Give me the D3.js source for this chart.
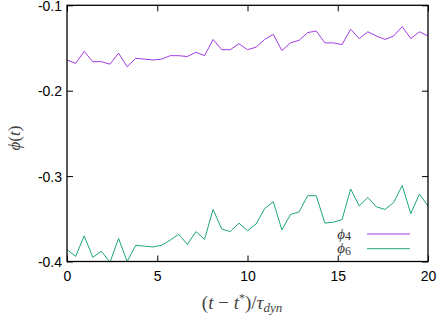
<!DOCTYPE html>
<html>
<head>
<meta charset="utf-8">
<script src="https://cdn.jsdelivr.net/npm/d3@7"></script>
<style>
  html, body { margin: 0; padding: 0; background: #fff; }
  svg { display: block; }
</style>
</head>
<body>
<svg id="chart" width="437" height="315"></svg>
<script>
const xTicks = [0, 5, 10, 15, 20];
const yTicks = [-0.4, -0.3, -0.2, -0.1];
const nPoints = 43;
const xMax = 20;
const phi4 = [-0.164, -0.168, -0.154, -0.166, -0.166, -0.169, -0.156, -0.172, -0.162, -0.163,
  -0.164, -0.163, -0.159, -0.159, -0.160, -0.155, -0.159, -0.140, -0.152, -0.152,
  -0.145, -0.152, -0.149, -0.140, -0.134, -0.153, -0.144, -0.141, -0.132, -0.130,
  -0.144, -0.144, -0.146, -0.128, -0.139, -0.131, -0.136, -0.140, -0.136, -0.125,
  -0.139, -0.131, -0.136];
const phi6 = [-0.386, -0.394, -0.370, -0.395, -0.388, -0.401, -0.373, -0.400, -0.381, -0.382,
  -0.383, -0.381, -0.375, -0.368, -0.380, -0.365, -0.374, -0.339, -0.362, -0.365,
  -0.355, -0.364, -0.356, -0.338, -0.330, -0.363, -0.345, -0.342, -0.323, -0.323,
  -0.355, -0.354, -0.351, -0.315, -0.335, -0.325, -0.336, -0.339, -0.331, -0.311,
  -0.344, -0.321, -0.335];
const times = d3.range(nPoints).map(i => i * xMax / (nPoints - 1));
const seriesNames = ["4", "6"];
const seriesColors = ["#a43be2", "#1ea57e"];

const svg = d3.select("#chart");
const L = 67, R = 428, T = 5.3, B = 261.5;
const x = d3.scaleLinear().domain([0, 20]).range([L, R]);
const y = d3.scaleLinear().domain([-0.4, -0.1]).range([B, T]);

const defs = svg.append("defs");
defs.append("clipPath").attr("id", "clip").append("rect")
  .attr("x", L).attr("y", T).attr("width", R - L).attr("height", B - T + 1);

const tickLen = 6;
const tickFont = "'Liberation Sans', Arial, sans-serif";
const yFmt = d => d3.format(".1f")(d).replace("−", "-");

const axB = d3.axisBottom(x).tickValues(xTicks).tickSize(-tickLen).tickPadding(10).tickFormat(d3.format("d"));
const axT = d3.axisTop(x).tickValues(xTicks).tickSize(-tickLen).tickFormat("");
const axL = d3.axisLeft(y).tickValues(yTicks).tickSize(-tickLen).tickPadding(5).tickFormat(yFmt);
const axR = d3.axisRight(y).tickValues(yTicks).tickSize(-tickLen).tickFormat("");

function style(g) {
  g.select(".domain").remove();
  g.selectAll(".tick line").attr("stroke", "#000").attr("stroke-width", 1);
  g.selectAll(".tick text").attr("fill", "#000").style("font-family", tickFont).style("font-size", "14px");
}
svg.append("g").attr("transform", `translate(0,${B})`).call(axB).call(style);
svg.append("g").attr("transform", `translate(0,${T})`).call(axT).call(style);
const gl = svg.append("g").attr("transform", `translate(${L},0)`).call(axL).call(style);
gl.selectAll(".tick text").attr("dy", "0.36em");
svg.append("g").attr("transform", `translate(${R},0)`).call(axR).call(style);

const line = d3.line().x((d, i) => x(times[i])).y(d => y(d));
[phi4, phi6].forEach((s, k) => {
  svg.append("path").datum(s)
    .attr("clip-path", "url(#clip)")
    .attr("fill", "none")
    .attr("stroke", seriesColors[k])
    .attr("stroke-width", 1)
    .attr("d", line);
});

svg.append("rect").attr("x", L).attr("y", T).attr("width", R - L).attr("height", B - T)
  .attr("fill", "none").attr("stroke", "#000").attr("stroke-width", 1.3);

const serif = "'Liberation Serif', 'Times New Roman', serif";
seriesNames.forEach((n, k) => {
  const yy = 234 + k * 14.7;
  const t = svg.append("text").attr("x", 351).attr("y", yy + 4.5)
    .attr("text-anchor", "end").attr("fill", "#333")
    .style("font-family", serif).style("font-size", "15px");
  t.append("tspan").style("font-style", "italic").text("ϕ");
  t.append("tspan").style("font-size", "12px").attr("dy", 1.5).text(n);
  svg.append("line").attr("x1", 367).attr("x2", 410).attr("y1", yy).attr("y2", yy)
    .attr("stroke", seriesColors[k]).attr("stroke-width", 1);
});

const xl = svg.append("text").attr("x", 242).attr("y", 309).attr("text-anchor", "middle")
  .attr("fill", "#444").style("font-family", serif).style("font-size", "19px");
xl.append("tspan").text("(");
xl.append("tspan").style("font-style", "italic").text("t");
xl.append("tspan").text(" − ");
xl.append("tspan").style("font-style", "italic").text("t");
xl.append("tspan").attr("dy", -7).style("font-size", "12px").text("*");
xl.append("tspan").attr("dy", 7).text(")/");
xl.append("tspan").style("font-style", "italic").text("τ");
xl.append("tspan").attr("dy", 3).style("font-size", "13px").style("font-style", "italic").text("dyn");

const yl = svg.append("text").attr("transform", `translate(20,138) rotate(-90)`)
  .attr("text-anchor", "middle").attr("fill", "#444")
  .style("font-family", serif).style("font-size", "17px");
yl.append("tspan").style("font-style", "italic").text("ϕ");
yl.append("tspan").text("(");
yl.append("tspan").style("font-style", "italic").text("t");
yl.append("tspan").text(")");
</script>
</body>
</html>
